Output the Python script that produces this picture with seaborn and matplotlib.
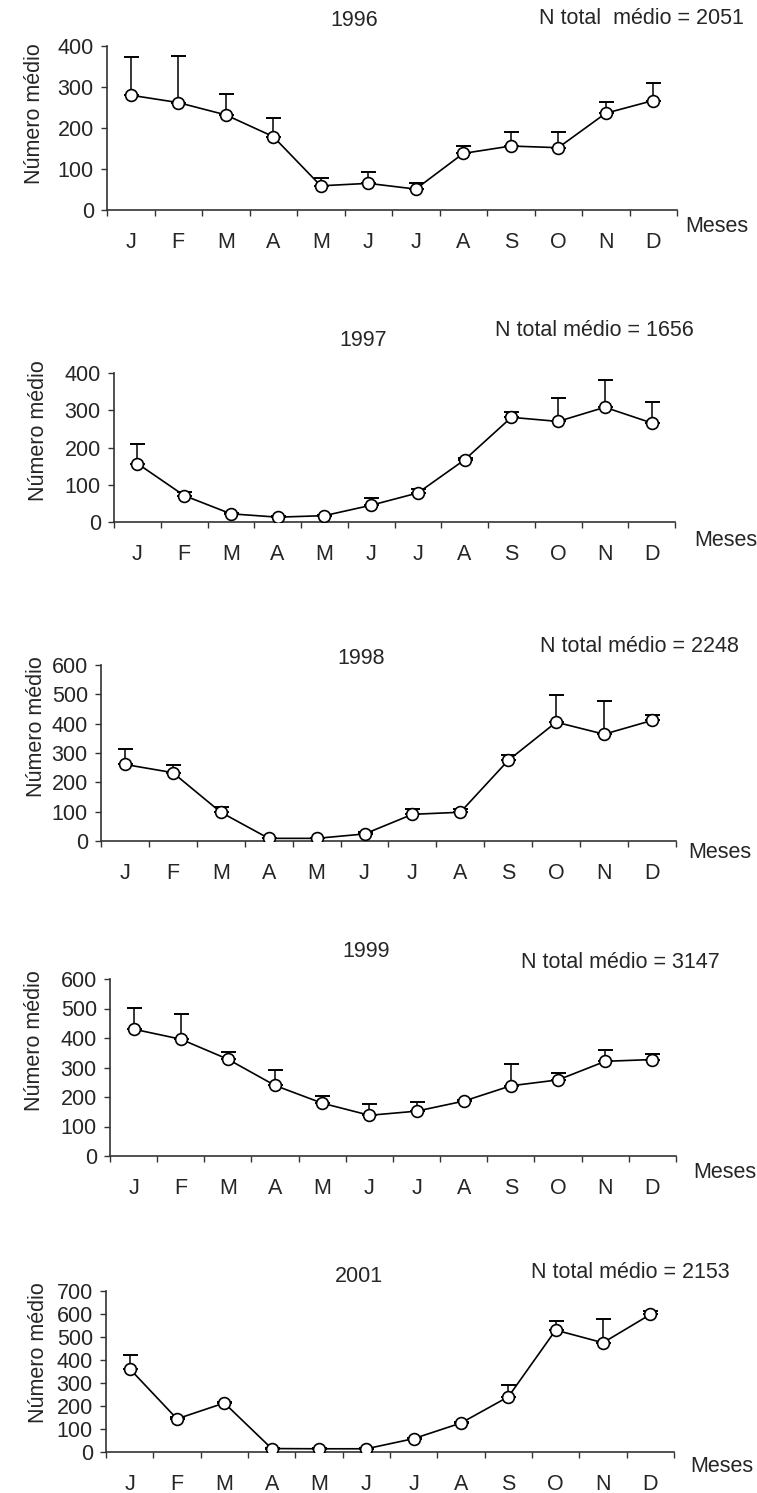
import numpy as np
import pandas as pd
import matplotlib
matplotlib.use('Agg')
import matplotlib.pyplot as plt
import seaborn as sns

months = ['J', 'F', 'M', 'A', 'M', 'J', 'J', 'A', 'S', 'O', 'N', 'D']
years = ['1996', '1997', '1998', '1999', '2001']
totals = ['N total  médio = 2051', 'N total médio = 1656', 'N total médio = 2248',
          'N total médio = 3147', 'N total médio = 2153']

# mean number per month and upper error bar length
mean_1996 = [280, 262, 232, 179, 59, 65, 51, 138, 156, 152, 236, 267]
err_1996 = [92, 114, 51, 46, 19, 27, 16, 18, 35, 39, 28, 42]
mean_1997 = [157, 71, 22, 13, 17, 45, 78, 167, 281, 270, 308, 266]
err_1997 = [52, 9, 3, 2, 2, 19, 11, 5, 14, 63, 74, 56]
mean_1998 = [261, 233, 98, 9, 9, 24, 91, 98, 275, 405, 364, 411]
err_1998 = [51, 26, 18, 2, 1, 8, 17, 10, 18, 93, 113, 19]
mean_1999 = [430, 396, 328, 239, 179, 138, 152, 186, 238, 258, 321, 327]
err_1999 = [71, 84, 23, 51, 23, 38, 32, 4, 73, 22, 38, 19]
mean_2001 = [362, 144, 213, 15, 14, 14, 58, 126, 240, 530, 475, 598]
err_2001 = [58, 7, 3, 3, 2, 2, 2, 3, 50, 39, 103, 13]

means = [mean_1996, mean_1997, mean_1998, mean_1999, mean_2001]
errs = [err_1996, err_1997, err_1998, err_1999, err_2001]
ymax = [400, 400, 600, 600, 700]

# layout in pixels: axes left, right, top, bottom
boxes = [(107, 677, 46, 210), (114, 675, 373, 522), (101, 676, 665, 841),
         (110, 676, 979, 1156), (106, 674, 1291, 1452)]
title_xy = [(354, 20), (363, 340), (361, 658), (366, 952), (359, 1276)]
total_xy = [(539, 18), (495, 330), (540, 647), (521, 963), (531, 1272)]
ylab_xy = [(34, 114), (38, 431), (36, 727), (35, 1041), (39, 1353)]
meses_xy = [(685, 227), (694, 540), (688, 853), (693, 1173), (690, 1467)]

W, H = 757, 1493
sns.set_theme(style='ticks')
plt.rcParams['font.family'] = ['Liberation Sans', 'DejaVu Sans']
fs = 15.5

fig = plt.figure(figsize=(W / 100, H / 100), dpi=100)


def fx(x, y):
    return x / W, 1 - y / H


for i in range(len(years)):
    l, r, t, b = boxes[i]
    ax = fig.add_axes([l / W, 1 - b / H, (r - l) / W, (b - t) / H])
    x = np.arange(len(months))
    df = pd.DataFrame({'mes': x, 'n': means[i]})

    ax.errorbar(x, means[i], yerr=[np.zeros(len(x)), errs[i]], fmt='none',
                ecolor='black', elinewidth=1.1, capsize=5.4, capthick=1.4, zorder=2)
    sns.lineplot(data=df, x='mes', y='n', ax=ax, color='black', lw=1.2,
                 marker='o', markersize=8.5, markerfacecolor='white',
                 markeredgecolor='black', markeredgewidth=1.2, zorder=3)

    ax.set_xlim(-0.5, 11.5)
    ax.set_ylim(0, ymax[i])
    ax.set_yticks(np.arange(0, ymax[i] + 1, 100))
    ax.set_xticks(np.arange(-0.5, 12, 1))
    ax.set_xticklabels([])
    ax.set_xticks(x, minor=True)
    ax.set_xticklabels(months, minor=True)
    ax.tick_params(axis='x', which='minor', length=0, pad=16, labelsize=fs)
    ax.tick_params(axis='x', which='major', length=4, width=1, color='#333333')
    ax.tick_params(axis='y', length=4.5, width=1, pad=5, labelsize=fs, color='#333333')
    ax.set_xlabel('')
    ax.set_ylabel('')
    for s in ['left', 'bottom']:
        ax.spines[s].set_color('#333333')
        ax.spines[s].set_linewidth(1.2)
    sns.despine(ax=ax)
    ax.patch.set_alpha(0)

    fig.text(*fx(*title_xy[i]), years[i], ha='center', va='center', fontsize=fs)
    fig.text(*fx(*total_xy[i]), totals[i], ha='left', va='center', fontsize=fs)
    fig.text(*fx(*ylab_xy[i]), 'Número médio', rotation=90, ha='center', va='center', fontsize=fs)
    fig.text(*fx(*meses_xy[i]), 'Meses', ha='left', va='center', fontsize=fs)

fig.savefig('out.png', dpi=100, facecolor='white')
